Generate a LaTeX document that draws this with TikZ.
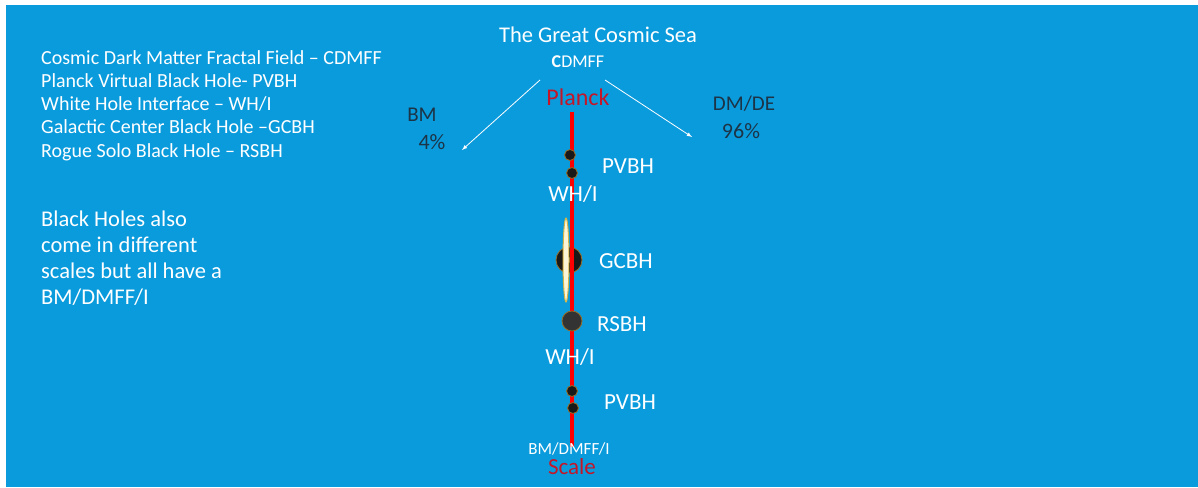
\documentclass[tikz,border=0pt]{standalone}
\usepackage{fontspec}
\setmainfont{Carlito}
\usetikzlibrary{arrows,positioning,calc}
\definecolor{seablue}{RGB}{10,155,221}
\definecolor{planckred}{RGB}{196,22,40}
\definecolor{darktxt}{RGB}{28,52,70}
\definecolor{holerim}{RGB}{150,110,40}
\definecolor{ringgold}{RGB}{215,180,70}
\definecolor{ringcream}{RGB}{250,245,215}
\newcommand{\fs}[1]{\fontsize{#1}{#1}\selectfont}
\begin{document}
\begin{tikzpicture}[x=1pt,y=-1pt,
  wtxt/.style={text=white,inner sep=0pt},
  dtxt/.style={text=darktxt,inner sep=0pt,font=\fs{21}},
  rtxt/.style={text=planckred,inner sep=0pt,font=\fs{24}},
  lbl/.style={wtxt,font=\fs{23}},
  hole/.style={circle,draw=holerim,fill=black!90,line width=0.8pt,inner sep=0pt},
  seaarrow/.style={draw=white,line width=0.8pt,-latex}]
\fill[white] (0,0) rectangle (1198,487);
\fill[seablue] (6,5) rectangle (1198,487);
% top of the sea
\node[wtxt,font=\fs{22.5}] (sea) at (598,35) {The Great Cosmic Sea};
\node[wtxt,font=\fs{18}] (cdmff) at (578,62) {\textbf{C}DMFF};
\node[rtxt] (planck) at (578,97) {Planck};
\node[dtxt] (bm) at (422,115) {BM};
\node[dtxt,font=\fs{22}] (bmpc) at (432,142) {4\%};
\node[dtxt] (dmde) at (744,104) {DM/DE};
\node[dtxt,font=\fs{22}] (dmpc) at (741,131) {96\%};
\coordinate (cl) at (540,80);
\coordinate (cr) at (605,80);
\coordinate (bmtip) at (462,150);
\coordinate (dmtip) at (692,137);
\draw[seaarrow] (cl) -- (bmtip);
\draw[seaarrow] (cr) -- (dmtip);
% the scale line
\node[hole,minimum size=26pt] (gcbh) at (569,260) {};
\draw[draw=ringgold,fill=ringcream,line width=1pt] (566,260) ellipse (3 and 42);
\coordinate (top) at (572,112);
\coordinate (bot) at (572,447);
\draw[red,line width=4pt] (top) -- (bot);
\node[hole,minimum size=11pt] (pv1) at (570,155) {};
\node[hole,minimum size=11pt] (pv2) at (572,173) {};
\node[hole,minimum size=20pt,fill=black!80] (rsbh) at (572,321) {};
\node[hole,minimum size=11pt] (pv3) at (572,391) {};
\node[hole,minimum size=11pt] (pv4) at (573,408) {};
\node[lbl] (pvtop) at (628,166) {PVBH};
\node[lbl] (whtop) at (573,194) {WH/I};
\node[lbl] (gc) at (626,261) {GCBH};
\node[lbl] (rs) at (622,324) {RSBH};
\node[lbl] (whbot) at (570,357) {WH/I};
\node[lbl] (pvbot) at (630,402) {PVBH};
\node[wtxt,font=\fs{17}] (bmdmff) at (569,449) {BM/DMFF/I};
\node[rtxt,font=\fs{23}] (scale) at (572,467) {Scale};
% legend
\node[wtxt,anchor=north west,align=left,font=\fontsize{20}{23.3}\selectfont] (legend) at (41,50)
  {Cosmic Dark Matter Fractal Field -- CDMFF\\
   Planck Virtual Black Hole- PVBH\\
   White Hole Interface -- WH/I\\
   Galactic Center Black Hole --GCBH\\
   Rogue Solo Black Hole -- RSBH};
\node[wtxt,anchor=north west,align=left,font=\fontsize{22.5}{26}\selectfont] (note) at (41,211)
  {Black Holes also\\ come in different\\ scales but all have a\\ BM/DMFF/I};
\end{tikzpicture}
\end{document}
